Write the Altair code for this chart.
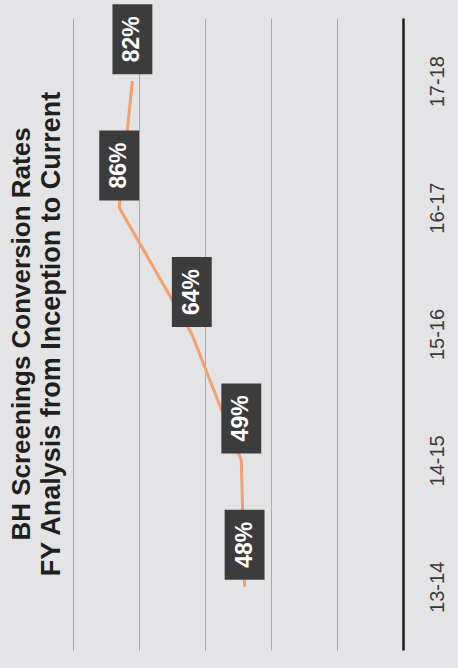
import altair as alt
import pandas as pd

years = ["13-14", "14-15", "15-16", "16-17", "17-18"]
rates = [0.48, 0.49, 0.64, 0.86, 0.82]
labels = ["48%", "49%", "64%", "86%", "82%"]
title_main = "BH Screenings Conversion Rates"
title_sub = "FY Analysis from Inception to Current"

df = pd.DataFrame({"year": years, "rate": rates, "label": labels})

y_enc = alt.Y(
    "year:N",
    sort=list(reversed(years)),
    scale=alt.Scale(type="point", padding=0.5),
    axis=alt.Axis(
        orient="right", title=None, ticks=False, grid=False,
        domain=True, domainColor="#1e1e1e", domainWidth=2.5,
        labelAngle=270, labelAlign="center", labelBaseline="middle",
        labelPadding=34, labelFontSize=20, labelColor="#3a3a3a",
        labelFont="Liberation Sans",
    ),
)
x_enc = alt.X(
    "rate:Q",
    scale=alt.Scale(domain=[0, 1], reverse=True),
    axis=alt.Axis(
        values=[0, 0.2, 0.4, 0.6, 0.8, 1.0], labels=False, ticks=False,
        domain=False, grid=True, gridColor="#a9a9ab", gridWidth=1, title=None,
    ),
)

base = alt.Chart(df).encode(x=x_enc, y=y_enc)

line = base.mark_line(color="#f3a06c", strokeWidth=3)

box_shape = "M-0.57,-1 L0.57,-1 L0.57,1 L-0.57,1 Z"
boxes = base.mark_point(
    shape=box_shape, size=70 * 70, filled=True, opacity=1,
    color="#3c3c3c", strokeWidth=0, yOffset=-42,
)
texts = base.mark_text(
    angle=270, align="center", baseline="middle", color="white",
    fontSize=23, fontWeight="bold", font="Liberation Sans", yOffset=-42,
).encode(text="label:N")

chart = (
    alt.layer(line, boxes, texts)
    .properties(
        width=330, height=632,
        autosize=alt.AutoSizeParams(type="none"),
        padding={"left": 73, "top": 18, "right": 55, "bottom": 18},
        background="#e4e4e6",
        title=alt.TitleParams(
            text=title_main, subtitle=title_sub, orient="left", anchor="middle",
            fontSize=26, fontWeight="bold", font="Liberation Sans", color="#1f1f1f",
            subtitleFontSize=27, subtitleFontWeight="bold",
            subtitleFont="Liberation Sans", subtitleColor="#1f1f1f",
            subtitlePadding=4, offset=8,
        ),
    )
    .configure_view(stroke=None)
)

chart.save("out.html", embed_options={"renderer": "svg", "actions": False})
